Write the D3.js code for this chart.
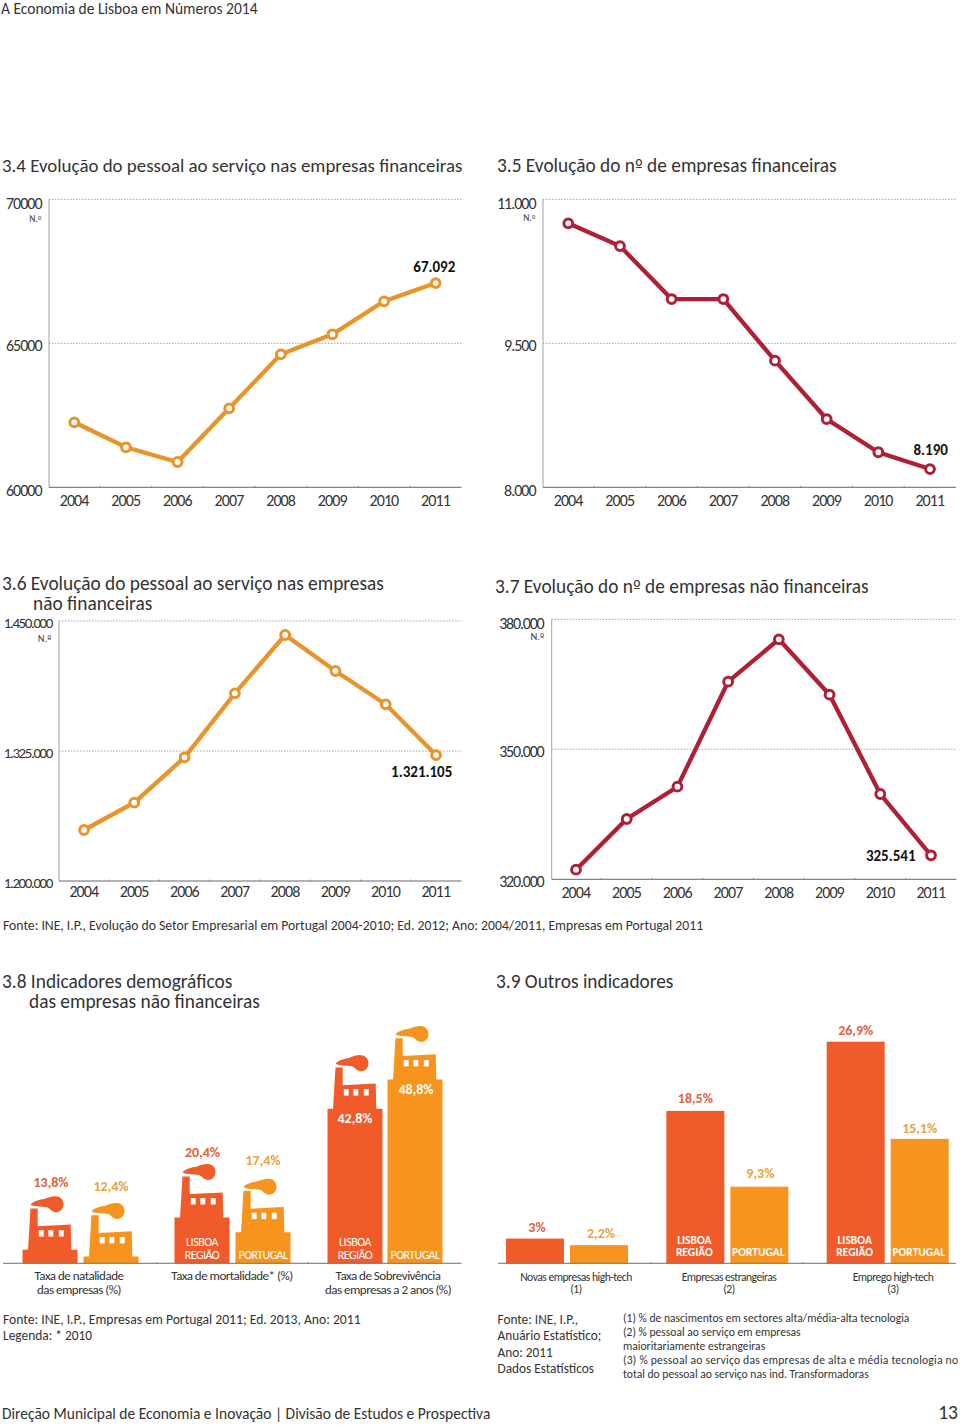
<!DOCTYPE html>
<html><head><meta charset="utf-8">
<script src="https://cdn.jsdelivr.net/npm/d3@7"></script>
<style>html,body{margin:0;background:#fff}svg{display:block}text{font-family:Carlito,Calibri,Lato,"Open Sans",sans-serif;fill:#231f20}</style>
</head><body><svg id="c" width="960" height="1425"></svg>
<script>
const years=["2004","2005","2006","2007","2008","2009","2010","2011"];
const pessoalFin=[62257,61389,60878,62743,64618,65313,66458,67092];
const empresasFin=[10750,10513,9961,9961,9319,8711,8365,8190];
const pessoalNaoFin=[1249040,1275290,1318940,1380480,1436540,1401900,1369900,1321105];
const empresasNaoFin=[322215,333915,341370,365600,375385,362600,339685,325541];
const orange="#e8942a",crimson="#ae2035",lisboa="#f15a29",portugal="#f7941e";
const svg=d3.select("#c");
function txt(x,y,s,size,o={}){const t=svg.append("text").attr("x",x).attr("y",y).attr("font-size",size);
 s.split(/(º)/).forEach(p=>{if(!p)return;const sp=t.append("tspan").text(p);if(p==="º")sp.style("font-family","'DejaVu Sans'").attr("font-size",size*.85);});
 if(o.anchor)t.attr("text-anchor",o.anchor);if(o.weight)t.attr("font-weight",o.weight);if(o.fill)t.style("fill",o.fill);if(o.ls)t.attr("letter-spacing",o.ls);if(o.tl)t.attr("textLength",o.tl).attr("lengthAdjust","spacing");return t;}
function lineChart(c){
 const g=svg.append("g");
 const y=d3.scaleLinear().domain(c.domain).range([c.y1,c.y0]);
 const x=d3.scalePoint().domain(years).range(c.xr);
 const step=x.step();
 const ticks=[c.domain[0],(c.domain[0]+c.domain[1])/2,c.domain[1]];
 g.selectAll(".grid").data(ticks.slice(1)).join("line").attr("x1",c.x0).attr("x2",c.x1).attr("y1",y).attr("y2",y).attr("stroke","#8a8a8a").attr("stroke-width",.8).attr("stroke-dasharray","1.5 1.5");
 g.append("line").attr("x1",c.x0).attr("x2",c.x0).attr("y1",c.y0).attr("y2",c.y1).attr("stroke","#8c8c8c").attr("stroke-width",.8);
 const axis=g.append("g").attr("transform",`translate(0,${c.y1})`).call(d3.axisBottom(x).tickSize(0).tickPadding(c.pad));
 axis.select(".domain").attr("d",`M${c.x0},0H${c.x1}`).attr("stroke","#666").attr("stroke-width",1);
 axis.selectAll("text").attr("font-size",16).attr("letter-spacing",-.9).attr("dx",-.7).style("font-family","Carlito,Calibri,Lato,sans-serif").style("fill","#333");
 g.selectAll(".tk").data(years.slice(1)).join("line").attr("x1",d=>x(d)-step/2).attr("x2",d=>x(d)-step/2).attr("y1",c.y1-1.5).attr("y2",c.y1).attr("stroke","#666").attr("stroke-width",.7);
 c.labels.forEach((l,i)=>{txt(c.lx,y(ticks[2-i])+c.lo[i],l,c.fs,{anchor:"end",ls:c.ls,fill:"#333"});});
 txt(c.x0-7.5,c.y0+c.ny,"N.º",c.ns,{anchor:"end",fill:"#444"});
 const line=d3.line().x((d,i)=>x(years[i])).y(d=>y(d));
 g.append("path").datum(c.v).attr("d",line).attr("fill","none").attr("stroke",c.color).attr("stroke-width",4.3);
 g.selectAll(".pt").data(c.v).join("circle").attr("cx",(d,i)=>x(years[i])).attr("cy",d=>y(d)).attr("r",4.4).attr("fill","#fff").attr("stroke",c.color).attr("stroke-width",3);
 const lx=x("2011")+c.note[0],ly=y(c.v[7])+c.note[1];
 txt(lx,ly,c.note[2],15,{anchor:"middle",weight:700,fill:"#111"});
}
lineChart({domain:[60000,70000],y0:199.3,y1:487.3,x0:49,x1:461.5,xr:[74.3,435.7],pad:7,ls:-1,fs:16,lx:41.5,ny:22.5,ns:9.5,color:orange,v:pessoalFin,labels:["70000","65000","60000"],lo:[10,8,9],note:[-1.4,-11.5,"67.092"]});
lineChart({domain:[8000,11000],y0:199.3,y1:487.3,x0:543,x1:956,xr:[568.3,930],pad:7,ls:-1,fs:16,lx:535.5,ny:22,ns:9.5,color:crimson,v:empresasFin,labels:["11.000","9.500","8.000"],lo:[10,8,9],note:[.7,-14,"8.190"]});
lineChart({domain:[1200000,1450000],y0:621,y1:881,x0:59,x1:461.5,xr:[84,436],pad:4.5,ls:-1.4,fs:15,lx:52,ny:21,ns:10.5,color:orange,v:pessoalNaoFin,labels:["1.450.000","1.325.000","1.200.000"],lo:[7,7,7],note:[-14.3,21.5,"1.321.105"]});
lineChart({domain:[320000,380000],y0:619.3,y1:879.3,x0:551.7,x1:956.5,xr:[576,931],pad:7,ls:-1.2,fs:16,lx:543.5,ny:21,ns:10.5,color:crimson,v:empresasNaoFin,labels:["380.000","350.000","320.000"],lo:[9.5,7.5,7.5],note:[-40.3,5.4,"325.541"]});

// headings and notes
txt(1,14,"A Economia de Lisboa em Números 2014",15.5,{fill:"#333"});
txt(2,172,"3.4 Evolução do pessoal ao serviço nas empresas financeiras",18.9,{fill:"#333"});
[[497,172,"3.5 Evolução do nº de empresas financeiras"],
 [2,590,"3.6 Evolução do pessoal ao serviço nas empresas"],[33,610,"não financeiras"],[495,592.5,"3.7 Evolução do nº de empresas não financeiras"],
 [2,988,"3.8 Indicadores demográficos"],[29,1008,"das empresas não financeiras"],[496,988,"3.9 Outros indicadores"]].forEach(d=>txt(d[0],d[1],d[2],19.35,{fill:"#333"}));
txt(3,929.5,"Fonte:  INE, I.P.,  Evolução do Setor Empresarial em Portugal 2004-2010; Ed. 2012; Ano: 2004/2011, Empresas em Portugal 2011",13.7,{fill:"#333"});
txt(3,1324,"Fonte:  INE, I.P., Empresas em Portugal 2011; Ed. 2013, Ano: 2011",13.65,{fill:"#333"});
txt(3,1340,"Legenda: * 2010",13.4,{fill:"#333"});
["Fonte: INE, I.P.,","Anuário Estatístico;","Ano: 2011","Dados Estatísticos"].forEach((s,i)=>txt(497.5,1324+i*16.3,s,13.3,{fill:"#333"}));
["(1) % de nascimentos em sectores alta/média-alta tecnologia","(2) % pessoal ao serviço em empresas","maioritariamente estrangeiras","(3) % pessoal ao serviço das empresas de alta e média tecnologia no","total do pessoal ao serviço nas ind. Transformadoras"].forEach((s,i)=>{const o={fill:"#333"};if(i==3)o.tl=335;txt(623,1322+i*14,s,11.6,o);});
txt(2,1419,"Direção Municipal de Economia e Inovação | Divisão de Estudos e Prospectiva",15.5,{fill:"#333"});
txt(958,1419,"13",19.5,{anchor:"end",fill:"#333"});

// 3.8 factories
const demoCats=["Taxa de natalidade|das empresas (%)","Taxa de mortalidade* (%)","Taxa de Sobrevivência|das empresas a 2 anos (%)"];
const demoLisboa=[13.8,20.4,42.8], demoPortugal=[12.4,17.4,48.8];
const demoLabelsL=["13,8%","20,4%","42,8%"],demoLabelsP=["12,4%","17,4%","48,8%"];
const fy=d3.scaleLinear().domain([0,48.8]).range([1263.3,1026]);
const fCentersL=[50,202,355],fCentersP=[111,263,415],fCatC=[79,232,388];
function factory(cx,v,color){
 const t=fy(v),g=svg.append("g").attr("transform",`translate(${cx},${t})`);
 const h=1263.3-t;
 g.append("path").attr("fill",color).attr("d",`M-27.5,${h}V53.5H-22L-19.5,12.3H-12.3V30L20.7,28.3L21.3,53.5H27.5V${h}Z`);
 g.append("path").attr("fill",color).attr("d","M-19.5,8.5C-17,5 -11,3.5 -5,2.5C-1,.5 3,-.3 6,0C10.5,.2 13.5,3.5 13.5,8C13.5,12.5 10,16 6,16C2,16 0,12 -3,11C-8,10 -15,11 -19.5,8.5Z");
 [-11.2,-1.6,8.8].forEach(wx=>g.append("rect").attr("x",wx).attr("y",34).attr("width",4.9).attr("height",6.4).attr("fill","#fff"));
}
demoLisboa.forEach((v,i)=>factory(fCentersL[i],v,lisboa));
demoPortugal.forEach((v,i)=>factory(fCentersP[i],v,portugal));
svg.append("line").attr("x1",3).attr("x2",461.5).attr("y1",1263.3).attr("y2",1263.3).attr("stroke","#6d6e71").attr("stroke-width",1);
[156.7,308].forEach(x=>svg.append("line").attr("x1",x).attr("x2",x).attr("y1",1261.8).attr("y2",1263.3).attr("stroke","#6d6e71").attr("stroke-width",.7));
[[51,1187],[202.5,1157]].forEach((p,i)=>txt(p[0],p[1],demoLabelsL[i],14,{anchor:"middle",weight:700,fill:"#e2603a"}));
[[111,1191],[263,1165]].forEach((p,i)=>txt(p[0],p[1],demoLabelsP[i],14,{anchor:"middle",weight:700,fill:"#e9a23b"}));
txt(355,1123,demoLabelsL[2],14,{anchor:"middle",weight:700,fill:"#fff"});
txt(416,1094,demoLabelsP[2],14,{anchor:"middle",weight:700,fill:"#fff"});
[202,355].forEach(x=>{txt(x,1245.5,"LISBOA",12,{anchor:"middle",fill:"#fff",ls:-.5,weight:500});txt(x,1258.8,"REGIÃO",12,{anchor:"middle",fill:"#fff",ls:-.5,weight:500});});
[263,415].forEach(x=>txt(x,1258.8,"PORTUGAL",12,{anchor:"middle",fill:"#fff",ls:-.6,weight:500}));
demoCats.forEach((c,i)=>c.split("|").forEach((s,j)=>txt(fCatC[i],1279.5+j*14,s,13,{anchor:"middle",ls:-.5,fill:"#333"})));

// 3.9 bars
const otherCats=["Novas empresas high-tech|(1)","Empresas estrangeiras|(2)","Emprego high-tech|(3)"];
const otherLisboa=[3,18.5,26.9],otherPortugal=[2.2,9.3,15.1];
const otherLabelsL=["3%","18,5%","26,9%"],otherLabelsP=["2,2%","9,3%","15,1%"];
const by=d3.scaleLinear().domain([0,26.9]).range([1263.3,1041.7]);
const bx0=d3.scalePoint().domain(otherCats).range([506,826.7]);
const bw=58,gap=6;
const dxL=[2,0,0],dyL=[0,-1,0],dxP=[0,-1,-2],dyP=[0,-1.5,1.5];
otherCats.forEach((c,i)=>{
 const x=bx0(c);
 svg.append("rect").attr("x",x).attr("y",by(otherLisboa[i])).attr("width",bw).attr("height",1263.3-by(otherLisboa[i])).attr("fill",lisboa);
 svg.append("rect").attr("x",x+bw+gap).attr("y",by(otherPortugal[i])).attr("width",bw).attr("height",1263.3-by(otherPortugal[i])).attr("fill",portugal);
 txt(x+29+dxL[i],by(otherLisboa[i])-6.5+dyL[i],otherLabelsL[i],14,{anchor:"middle",weight:700,fill:"#e2603a"});
 txt(x+bw+gap+31+dxP[i],by(otherPortugal[i])-7+dyP[i],otherLabelsP[i],14,{anchor:"middle",weight:700,fill:"#e9a23b"});
 if(i>0){txt(x+28,1243.5,"LISBOA",11.5,{anchor:"middle",weight:700,fill:"#fff"});txt(x+28,1255.5,"REGIÃO",11.5,{anchor:"middle",weight:700,fill:"#fff"});txt(x+bw+gap+28,1255.5,"PORTUGAL",11.5,{anchor:"middle",weight:700,fill:"#fff"});}
});
svg.append("line").attr("x1",498).attr("x2",956).attr("y1",1263.3).attr("y2",1263.3).attr("stroke","#6d6e71").attr("stroke-width",1);
[651,803].forEach(x=>svg.append("line").attr("x1",x).attr("x2",x).attr("y1",1261.8).attr("y2",1263.3).attr("stroke","#6d6e71").attr("stroke-width",.7));
[576,729,893].forEach((x,i)=>otherCats[i].split("|").forEach((s,j)=>txt(x,1281+j*12,s,11.6,{anchor:"middle",ls:-.5,fill:"#333"})));
</script></body></html>
